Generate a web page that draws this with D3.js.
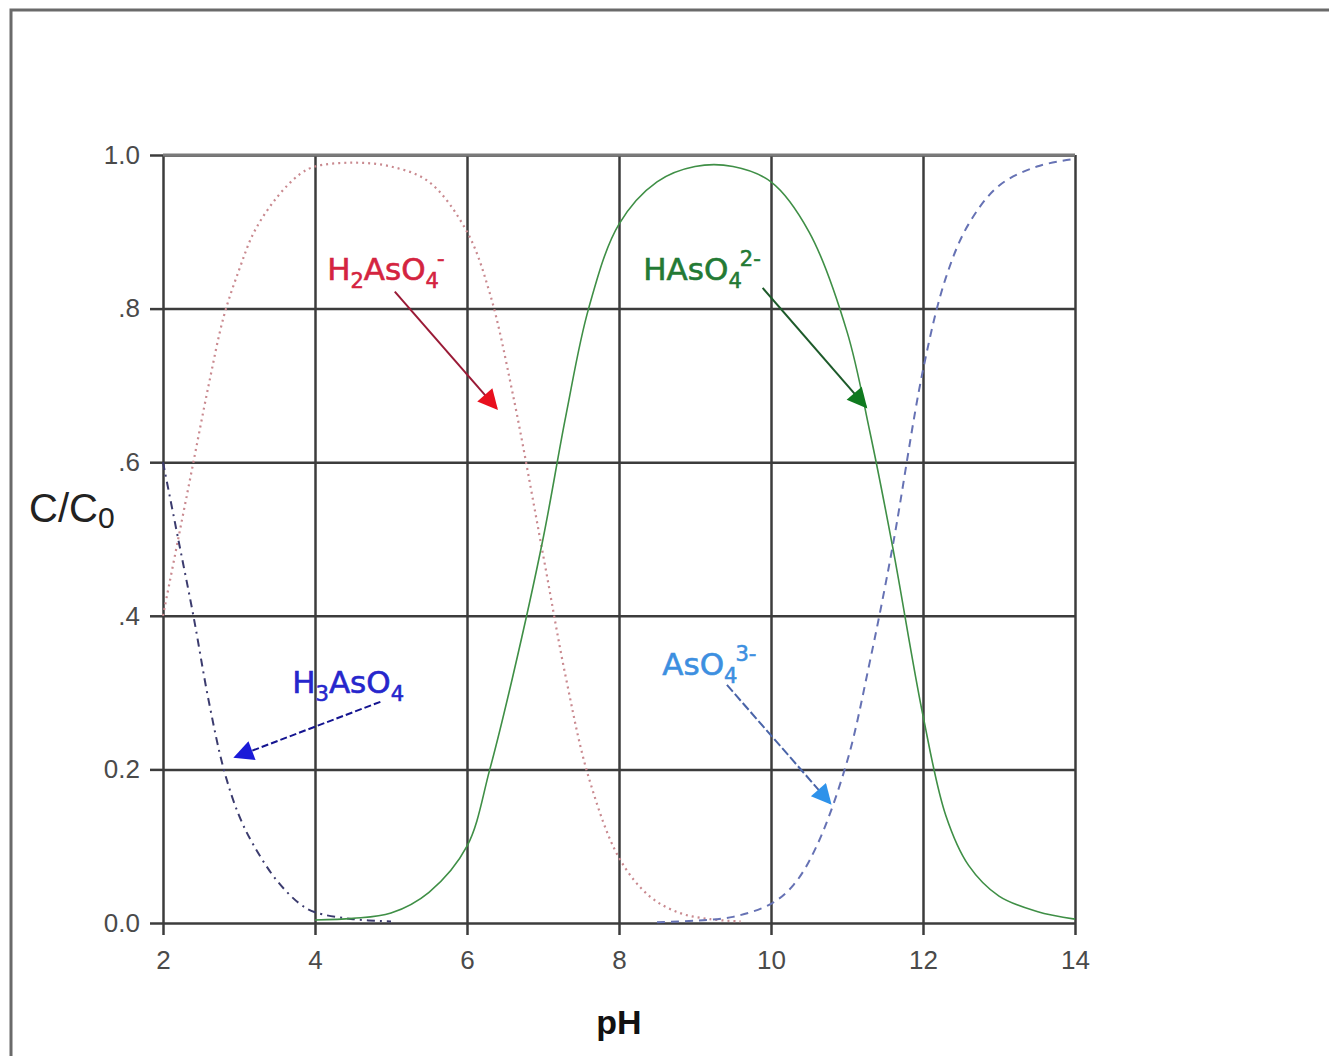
<!DOCTYPE html>
<html>
<head>
<meta charset="utf-8">
<title>Arsenic acid speciation</title>
<script src="https://d3js.org/d3.v7.min.js"></script>
<style>
  body { margin: 0; background: #fff; }
  svg { display: block; }
  .tick text { font-family: "Liberation Sans", Arial, sans-serif; font-size: 26px; }
  .grid line { stroke: #3c3c3c; stroke-width: 2.5px; }
  .grid path { display: none; }
  .species { font-family: "DejaVu Sans", Verdana, sans-serif; font-size: 31px; stroke-width: 0.6px; }
</style>
</head>
<body>
<svg width="1329" height="1056"></svg>
<script>
// values
const pHTicks = [2, 4, 6, 8, 10, 12, 14];
const yTicks = [0, 0.2, 0.4, 0.6, 0.8, 1.0];
const yTickLabels = ["0.0", "0.2", ".4", ".6", ".8", "1.0"];

const h3pH  = [2.0, 2.2, 2.4, 2.6, 2.8, 3.0, 3.2, 3.5, 3.8, 4.0, 4.5, 5.0];
const h3Val = [0.60, 0.50, 0.40, 0.29, 0.20, 0.14, 0.10, 0.055, 0.025, 0.014, 0.005, 0.002];

const h2pH  = [2.0, 2.2, 2.4, 2.6, 2.8, 3.0, 3.2, 3.5, 3.8, 4.0, 4.5, 5.0, 5.5, 6.0, 6.3, 6.6, 7.0, 7.3, 7.6, 8.0, 8.4, 8.8, 9.2, 9.6];
const h2Val = [0.40, 0.50, 0.60, 0.70, 0.79, 0.85, 0.90, 0.945, 0.975, 0.985, 0.99, 0.985, 0.965, 0.90, 0.82, 0.69, 0.48, 0.32, 0.19, 0.085, 0.035, 0.013, 0.005, 0.002];

const h1pH  = [4.0, 4.5, 5.0, 5.5, 6.0, 6.3, 6.6, 7.0, 7.3, 7.6, 8.0, 8.5, 9.0, 9.5, 10.0, 10.5, 11.0, 11.3, 11.6, 12.0, 12.3, 12.6, 13.0, 13.5, 14.0];
const h1Val = [0.004, 0.006, 0.013, 0.04, 0.10, 0.20, 0.32, 0.50, 0.66, 0.80, 0.91, 0.965, 0.985, 0.985, 0.965, 0.90, 0.77, 0.64, 0.49, 0.27, 0.14, 0.075, 0.035, 0.015, 0.005];

const h0pH  = [8.5, 9.0, 9.5, 10.0, 10.3, 10.6, 11.0, 11.3, 11.6, 12.0, 12.3, 12.6, 13.0, 13.5, 14.0];
const h0Val = [0.001, 0.003, 0.008, 0.025, 0.05, 0.10, 0.21, 0.34, 0.49, 0.72, 0.84, 0.91, 0.96, 0.985, 0.995];

// label anchor [pH, value] and arrow [from pH, from value, to pH, to value]
const labelPos = {
  h3: [3.70, 0.300], h2: [4.16, 0.837], h1: [8.32, 0.837], h0: [8.57, 0.323]
};
const arrowPos = {
  h3: [4.86, 0.288, 2.95, 0.216],
  h2: [5.05, 0.822, 6.39, 0.670],
  h1: [9.89, 0.827, 11.25, 0.672],
  h0: [9.42, 0.310, 10.78, 0.156]
};

const svg = d3.select("svg");
svg.append("rect").attr("width", 1329).attr("height", 1056).attr("fill", "#fff");

// outer frame
svg.append("path")
  .attr("d", "M11,1056 V10 H1329")
  .attr("fill", "none").attr("stroke", "#6a6a6a").attr("stroke-width", 3);

const x = d3.scaleLinear().domain([2, 14]).range([163, 1075]);
const y = d3.scaleLinear().domain([0, 1]).range([923, 155]);

// grid + axes
svg.append("g").attr("class", "grid")
  .attr("transform", "translate(0,923)")
  .call(d3.axisBottom(x).tickValues(pHTicks).tickSize(-(923 - 155)).tickFormat(""));
svg.append("g").attr("class", "grid")
  .attr("transform", "translate(163,0)")
  .call(d3.axisLeft(y).tickValues(yTicks).tickSize(-(1075 - 163)).tickFormat(""));

svg.append("g").attr("class", "grid")
  .attr("transform", "translate(0,923)")
  .call(d3.axisBottom(x).tickValues(pHTicks).tickSize(12).tickPadding(16).tickFormat(d3.format("d")));
svg.append("g").attr("class", "grid")
  .attr("transform", "translate(163,0)")
  .call(d3.axisLeft(y).tickValues(yTicks).tickSize(13).tickPadding(10)
    .tickFormat((d, i) => yTickLabels[i]));

svg.selectAll(".tick text").attr("fill", "#4a4a4a");

// top border lighter
svg.append("line").attr("x1", 163).attr("x2", 1075).attr("y1", 155).attr("y2", 155)
  .attr("stroke", "#7a7a7a").attr("stroke-width", 3);

const line = d3.line().x(d => x(d[0])).y(d => y(d[1])).curve(d3.curveCatmullRom.alpha(0.5));
const zip = (a, b) => a.map((v, i) => [v, b[i]]);

const curves = [
  { pts: zip(h2pH, h2Val), color: "#c9898f", dash: "2,4", w: 2.2 },
  { pts: zip(h3pH, h3Val), color: "#3b3b6e", dash: "8,5,2,5", w: 2 },
  { pts: zip(h0pH, h0Val), color: "#6672b4", dash: "8,6", w: 2 },
  { pts: zip(h1pH, h1Val), color: "#3f8f46", dash: null, w: 1.6 }
];
curves.forEach(c => {
  svg.append("path")
    .attr("d", line(c.pts))
    .attr("fill", "none")
    .attr("stroke", c.color)
    .attr("stroke-width", c.w)
    .attr("stroke-dasharray", c.dash);
});

// arrows
const defs = svg.append("defs");
function marker(id, color) {
  defs.append("marker")
    .attr("id", id)
    .attr("viewBox", "0 0 10 10")
    .attr("refX", 9).attr("refY", 5)
    .attr("markerWidth", 22).attr("markerHeight", 20)
    .attr("markerUnits", "userSpaceOnUse")
    .attr("orient", "auto")
    .append("path").attr("d", "M0,0 L10,5 L0,10 Z").attr("fill", color);
}
marker("mh3", "#1a1ad8");
marker("mh2", "#e8101e");
marker("mh1", "#0f7a1f");
marker("mh0", "#2e92ea");

const arrowStyle = {
  h3: { line: "#141490", m: "mh3", dash: "7,3" },
  h2: { line: "#9a1a36", m: "mh2", dash: null },
  h1: { line: "#1d5a2a", m: "mh1", dash: null },
  h0: { line: "#4a64a8", m: "mh0", dash: "9,3" }
};
Object.keys(arrowPos).forEach(k => {
  const a = arrowPos[k];
  svg.append("line")
    .attr("x1", x(a[0])).attr("y1", y(a[1]))
    .attr("x2", x(a[2])).attr("y2", y(a[3]))
    .attr("stroke", arrowStyle[k].line)
    .attr("stroke-width", 2)
    .attr("stroke-dasharray", arrowStyle[k].dash)
    .attr("marker-end", `url(#${arrowStyle[k].m})`);
});

// species labels: 0 = normal, 1 = subscript, 2 = superscript
const labels = [
  { k: "h3", color: "#2626cc", parts: [["H", 0], ["3", 1], ["AsO", 0], ["4", 1]] },
  { k: "h2", color: "#d4243f", parts: [["H", 0], ["2", 1], ["AsO", 0], ["4", 1], ["-", 2]] },
  { k: "h1", color: "#237a34", parts: [["HAsO", 0], ["4", 1], ["2-", 2]] },
  { k: "h0", color: "#3d8fe0", parts: [["AsO", 0], ["4", 1], ["3-", 2]] }
];
labels.forEach(l => {
  const p = labelPos[l.k];
  const t = svg.append("text").attr("class", "species")
    .attr("x", x(p[0])).attr("y", y(p[1]))
    .attr("fill", l.color).attr("stroke", l.color);
  let shift = 0;
  l.parts.forEach(([s, type]) => {
    const ts = t.append("tspan").text(s);
    const target = type === 1 ? 8 : type === 2 ? -14 : 0;
    if (type === 2) ts.attr("dx", -2);
    ts.attr("dy", target - shift);
    if (type) ts.attr("font-size", "21px");
    shift = target;
  });
});

// axis titles
svg.append("text")
  .attr("x", x(8)).attr("y", 1034)
  .attr("text-anchor", "middle")
  .attr("font-family", "Liberation Sans, Arial, sans-serif")
  .attr("font-weight", "bold").attr("font-size", 34)
  .attr("fill", "#111")
  .text("pH");

const yt = svg.append("text")
  .attr("x", 29).attr("y", 522)
  .attr("font-family", "Liberation Sans, Arial, sans-serif")
  .attr("font-size", 40).attr("fill", "#222");
yt.append("tspan").text("C/C");
yt.append("tspan").attr("dy", 6).attr("font-size", 30).text("0");
</script>
</body>
</html>
